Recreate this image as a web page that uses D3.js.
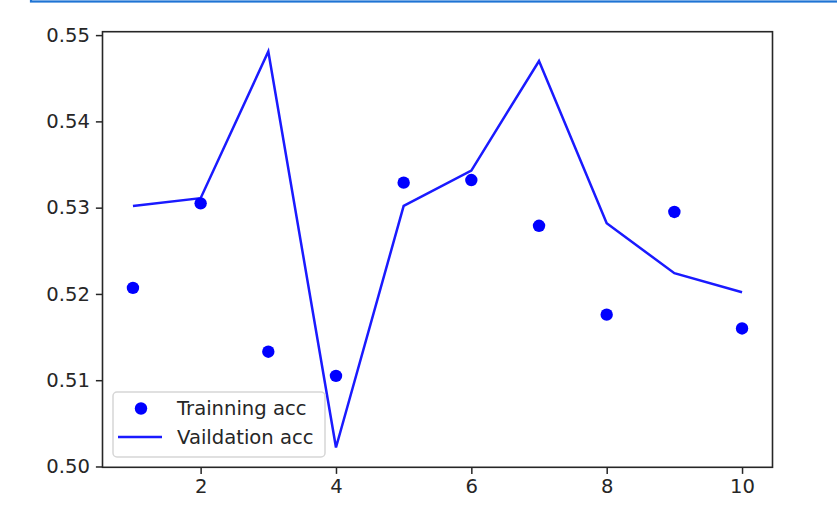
<!DOCTYPE html>
<html>
<head>
<meta charset="utf-8">
<script src="https://cdn.jsdelivr.net/npm/d3@7"></script>
<style>
  body { margin: 0; background: #fff; }
  svg { display: block; font-family: "DejaVu Sans", sans-serif; }
</style>
</head>
<body>
<svg width="837" height="522"></svg>
<script>
var epochs = [1, 2, 3, 4, 5, 6, 7, 8, 9, 10];
var train_acc = [0.5207, 0.5305, 0.5133, 0.5105, 0.5329, 0.5332, 0.5279, 0.5176, 0.5295, 0.5160];
var val_acc = [0.5302, 0.5311, 0.5481, 0.5022, 0.5302, 0.5343, 0.5470, 0.5282, 0.5224, 0.5202];
var x_ticks = [2, 4, 6, 8, 10];
var y_ticks = [0.50, 0.51, 0.52, 0.53, 0.54, 0.55];
var legend_labels = ["Trainning acc", "Vaildation acc"];

var svg = d3.select("svg");
// plot box (note: "top" is taken by window.top, so use other names)
var box_l = 102.5, box_r = 772.5, box_t = 31.7, box_b = 467.3;
var fs = 19.6;
var ink = "#262626";

// the bit of the notebook cell border that shows at the top
svg.append("rect")
    .attr("x", 31).attr("y", -20)
    .attr("width", 830).attr("height", 21.5)
    .attr("fill", "none")
    .attr("stroke", "#1f74d4")
    .attr("stroke-width", 2.2);

// matplotlib style 5% margins
var all = train_acc.concat(val_acc);
var ymin = d3.min(all), ymax = d3.max(all), span = ymax - ymin;
var x = d3.scaleLinear().domain([0.55, 10.45]).range([box_l, box_r]);
var y = d3.scaleLinear().domain([ymin - 0.05 * span, ymax + 0.05 * span]).range([box_b, box_t]);

var xAxis = svg.append("g")
    .attr("transform", "translate(0," + box_b + ")")
    .call(d3.axisBottom(x).tickValues(x_ticks).tickFormat(d3.format("d")).tickSize(6.6).tickPadding(5.5));
var yAxis = svg.append("g")
    .attr("transform", "translate(" + box_l + ",0)")
    .call(d3.axisLeft(y).tickValues(y_ticks).tickFormat(d3.format(".2f")).tickSize(6.6).tickPadding(6));

[xAxis, yAxis].forEach(function(a) {
  a.select(".domain").remove();
  a.selectAll(".tick line").attr("stroke", ink).attr("stroke-width", 1.5);
  a.selectAll(".tick text")
      .attr("fill", ink)
      .style("font-size", fs + "px")
      .style("font-family", "DejaVu Sans");
});

// frame
svg.append("rect")
    .attr("x", box_l).attr("y", box_t)
    .attr("width", box_r - box_l).attr("height", box_b - box_t)
    .attr("fill", "none")
    .attr("stroke", ink)
    .attr("stroke-width", 1.6);

var line = d3.line()
    .x(function(d, i) { return x(epochs[i]); })
    .y(function(d) { return y(d); });

svg.append("path")
    .datum(val_acc)
    .attr("d", line)
    .attr("fill", "none")
    .attr("stroke", "#1a1aff")
    .attr("stroke-width", 2.5)
    .attr("stroke-linejoin", "miter");

svg.append("g")
  .selectAll("circle")
  .data(train_acc)
  .enter().append("circle")
    .attr("cx", function(d, i) { return x(epochs[i]); })
    .attr("cy", function(d) { return y(d); })
    .attr("r", 6.2)
    .attr("fill", "#0000ff");

// legend
var lg = svg.append("g").attr("transform", "translate(113,392)");
lg.append("rect")
    .attr("width", 212).attr("height", 65)
    .attr("rx", 4).attr("ry", 4)
    .attr("fill", "#fff").attr("fill-opacity", 0.8)
    .attr("stroke", "#d6d6d6").attr("stroke-width", 1.5);
lg.append("circle")
    .attr("cx", 28).attr("cy", 16.5).attr("r", 6.2)
    .attr("fill", "#0000ff");
lg.append("line")
    .attr("x1", 5).attr("x2", 49)
    .attr("y1", 45).attr("y2", 45)
    .attr("stroke", "#1a1aff").attr("stroke-width", 2.5);
lg.selectAll("text")
  .data(legend_labels)
  .enter().append("text")
    .attr("x", 64)
    .attr("y", function(d, i) { return 16.5 + i * 28.5; })
    .attr("dy", "0.35em")
    .attr("fill", ink)
    .style("font-size", fs + "px")
    .text(function(d) { return d; });
</script>
</body>
</html>
